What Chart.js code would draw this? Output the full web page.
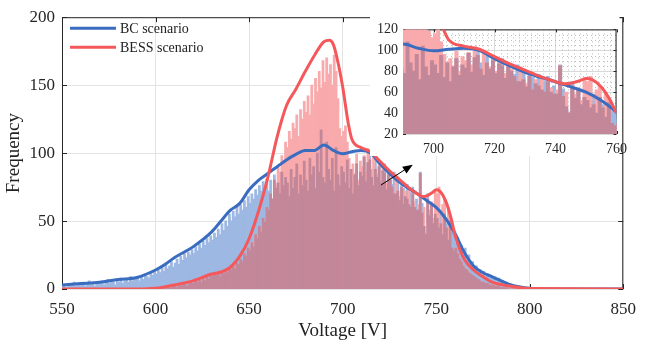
<!DOCTYPE html>
<html>
<head>
<meta charset="utf-8">
<script src="https://cdn.jsdelivr.net/npm/chart.js@4.4.1/dist/chart.umd.min.js"></script>
<style>
  html, body { margin: 0; padding: 0; background: #fff; }
  #wrap { position: relative; width: 646px; height: 350px; }
  #main { position: absolute; left: 0; top: 0; }
  #inset { position: absolute; left: 370px; top: 16px; }
</style>
</head>
<body>
<div id="wrap">
  <canvas id="main" width="646" height="350"></canvas>
  <canvas id="inset" width="264" height="140"></canvas>
</div>
<script>
// 1 V histogram bins starting at 550 V
const binStart = 550;

const bcCounts = [
  2,3,1,4,2,3,5,2,4,3,
  3,5,2,4,6,3,4,2,5,4,
  4,6,3,5,7,4,6,5,3,7,
  5,8,4,6,7,5,9,6,8,7,
  8,6,10,7,11,9,8,12,10,13,
  11,14,12,16,13,18,15,17,20,16,
  19,22,18,24,21,26,23,27,25,29,
  26,31,28,33,30,35,32,37,34,39,
  36,41,38,44,40,48,43,50,46,55,
  50,57,53,60,55,62,58,65,60,68,
  63,70,66,73,69,76,72,79,74,81,
  72,80,66,84,74,78,70,86,76,82,
  78,68,88,74,82,92,70,84,76,94,
  80,72,96,84,90,74,100,86,117,82,
  78,108,88,80,96,72,104,84,76,90,
  86,78,95,74,88,70,84,92,76,86,
  83,97,79,93,101,88,76,95,82,90,
  78,87,92,73,84,80,77,86,70,82,
  65,79,74,68,77,62,71,75,60,66,
  58,86,63,46,41,70,54,62,48,55,
  52,45,58,40,55,48,36,50,42,44,
  34,38,28,32,24,30,21,25,18,20,
  15,17,12,14,10,13,9,11,8,10,
  7,9,6,8,5,6,4,5,3,4,
  3,2,2,1,1,1,0,1,0,0
];

const bessCounts = [
  0,0,0,0,0,0,0,0,0,0,
  0,0,0,0,0,0,0,0,0,0,
  0,0,0,0,0,0,0,0,0,0,
  0,0,0,0,0,0,0,0,0,0,
  0,0,0,0,0,0,1,0,0,0,
  0,1,0,1,1,0,2,1,1,2,
  2,1,3,2,3,4,2,3,5,4,
  4,6,5,7,5,8,6,9,7,10,
  9,11,10,12,9,13,11,14,12,15,
  14,17,15,19,18,22,20,26,24,30,
  28,34,31,40,37,46,42,52,49,60,
  58,70,66,80,76,90,86,98,95,108,
  104,116,110,122,118,128,112,132,125,138,
  130,142,128,150,136,155,145,160,148,168,
  152,170,158,165,150,172,160,140,118,112,
  116,120,108,96,88,92,85,99,80,94,
  90,98,86,103,95,82,99,88,84,92,
  80,90,85,78,88,82,75,70,84,72,
  68,75,62,72,66,74,60,70,64,58,
  62,85,56,60,40,66,58,64,52,72,
  70,75,48,62,66,45,60,54,30,28,
  30,26,22,20,17,15,14,12,11,10,
  9,8,7,6,5,5,4,4,3,3,
  3,2,2,2,1,1,1,1,0,0,
  0,0,0,0,0,0,0,0,0,0
];

// smoothed density curves (scaled to frequency)
const bcCurveV = [550,560,570,580,590,600,605,610,620,630,635,640,645,650,655,660,665,670,675,680,685,690,695,700,705,710,715,720,730,740,745,750,755,760,765,770,775,780,790,800,810,850];
const bcCurve  = [3,4,5,7,8.5,14,18,23,31,42,50,58,63,73,80,85,90,95,99,102,102,106,102,99.5,101,102,100,92,79,70,65,60,52,41,27,17,12,9,3,0.5,0,0];

const bessCurveV = [550,590,600,610,620,630,635,640,645,650,655,660,665,670,675,680,685,690,693,695,697,700,703,705,710,715,720,725,730,735,740,743,745,748,750,752,755,758,760,765,770,775,780,790,800,850];
const bessCurve  = [0,0,0.5,3,6,11,12.5,16,24,37,57,82,112,135,147,160,172,182,183,180,170,149,122,110,104,101,94,87,81,75,70,68,68.5,71,73,72,65,52,40,22,14,9,5,2,0.3,0];

const mainXTicks = [550,600,650,700,750,800,850];
const mainYTicks = [0,50,100,150,200];
const insetXTicks = [700,720,740,760];
const insetYTicks = [20,40,60,80,100,120];

const blueLine = "#3a6cc0";
const redLine = "#f4585a";
// translucent-looking histogram faces: each alone, and where both overlap
const blueBar = "#9db8e2";
const redBar = "#f8aaac";
const bothBar = "#c3879a";
const serif = '"Liberation Serif", "Times New Roman", serif';
const inkColor = "#262626";

// shared part of the two histograms (drawn on top in the mixed colour)
const overlapCounts = bcCounts.map((v, i) => Math.min(v, bessCounts[i]));

function bars(counts, color, order) {
  return {
    type: "bar",
    data: counts.map((v, i) => ({ x: binStart + i + 0.5, y: v })),
    backgroundColor: color,
    borderWidth: 0,
    barPercentage: 1,
    categoryPercentage: 1,
    inflateAmount: 0.45,
    grouped: false,
    order: order,
  };
}

function curve(xs, ys, color, order, width) {
  return {
    type: "line",
    data: xs.map((x, i) => ({ x: x, y: ys[i] })),
    borderColor: color,
    borderWidth: width,
    pointRadius: 0,
    fill: false,
    cubicInterpolationMode: "monotone",
    order: order,
  };
}

function datasets(lw) {
  return [
    curve(bessCurveV, bessCurve, redLine, 0, lw),
    curve(bcCurveV, bcCurve, blueLine, 1, lw),
    bars(overlapCounts, bothBar, 2),
    bars(bessCounts, redBar, 3),
    bars(bcCounts, blueBar, 4),
  ];
}

// box around the plot with inward tick marks (MATLAB style)
const framePlugin = {
  id: "frame",
  beforeDatasetsDraw(chart, args, opts) {
    const { ctx, chartArea: a } = chart;
    const x = chart.scales.x, y = chart.scales.y;
    ctx.save();
    ctx.strokeStyle = inkColor;
    ctx.lineWidth = 1;
    ctx.strokeRect(a.left + 0.5, a.top + 0.5, a.width - 1, a.height - 1);
    const t = opts.len || 5;
    ctx.beginPath();
    x.ticks.forEach(tk => {
      const px = Math.round(x.getPixelForValue(tk.value)) + 0.5;
      ctx.moveTo(px, a.bottom); ctx.lineTo(px, a.bottom - t);
      ctx.moveTo(px, a.top); ctx.lineTo(px, a.top + t);
    });
    y.ticks.forEach(tk => {
      const py = Math.round(y.getPixelForValue(tk.value)) + 0.5;
      ctx.moveTo(a.left, py); ctx.lineTo(a.left + t, py);
      ctx.moveTo(a.right, py); ctx.lineTo(a.right - t, py);
    });
    ctx.stroke();
    ctx.restore();
  },
};

const legendPlugin = {
  id: "cornerLegend",
  afterDraw(chart) {
    const { ctx, chartArea: a } = chart;
    const items = [["BC scenario", blueLine], ["BESS scenario", redLine]];
    ctx.save();
    ctx.font = "14px " + serif;
    ctx.textBaseline = "middle";
    items.forEach((it, i) => {
      const yy = a.top + 11 + i * 19;
      ctx.strokeStyle = it[1];
      ctx.lineWidth = 3;
      ctx.beginPath();
      ctx.moveTo(a.left + 8, yy);
      ctx.lineTo(a.left + 54, yy);
      ctx.stroke();
      ctx.fillStyle = "#222";
      ctx.fillText(it[0], a.left + 58, yy + 1);
    });
    ctx.restore();
  },
};

// arrow pointing from the curve up to the zoomed inset
const arrowFrom = [720.5, 76.5];
const arrowTo = [737.5, 91.5];
const arrowPlugin = {
  id: "arrow",
  afterDraw(chart) {
    const { ctx } = chart;
    const x = chart.scales.x, y = chart.scales.y;
    const x0 = x.getPixelForValue(arrowFrom[0]), y0 = y.getPixelForValue(arrowFrom[1]);
    const x1 = x.getPixelForValue(arrowTo[0]), y1 = y.getPixelForValue(arrowTo[1]);
    const ang = Math.atan2(y1 - y0, x1 - x0);
    ctx.save();
    ctx.strokeStyle = "#000";
    ctx.fillStyle = "#000";
    ctx.lineWidth = 1;
    ctx.beginPath();
    ctx.moveTo(x0, y0);
    ctx.lineTo(x1 - 6 * Math.cos(ang), y1 - 6 * Math.sin(ang));
    ctx.stroke();
    ctx.beginPath();
    ctx.moveTo(x1, y1);
    ctx.lineTo(x1 - 10 * Math.cos(ang) + 4 * Math.sin(ang), y1 - 10 * Math.sin(ang) - 4 * Math.cos(ang));
    ctx.lineTo(x1 - 10 * Math.cos(ang) - 4 * Math.sin(ang), y1 - 10 * Math.sin(ang) + 4 * Math.cos(ang));
    ctx.closePath();
    ctx.fill();
    ctx.restore();
  },
};

new Chart(document.getElementById("main"), {
  type: "bar",
  data: { datasets: datasets(3) },
  options: {
    responsive: false,
    animation: false,
    events: [],
    layout: { padding: { left: 0, right: 14, top: 12, bottom: 0 } },
    plugins: { legend: { display: false }, tooltip: { enabled: false }, frame: { len: 5 } },
    scales: {
      x: {
        type: "linear",
        offset: false,
        min: 550,
        max: 850,
        afterBuildTicks: s => { s.ticks = mainXTicks.map(v => ({ value: v })); },
        afterFit: s => { s.height = 61; },
        grid: { color: "#e4e4e4", drawTicks: false, offset: false },
        border: { display: false },
        ticks: { color: inkColor, font: { family: serif, size: 17 }, padding: 10, maxRotation: 0 },
        title: { display: true, text: "Voltage [V]", color: "#222", font: { family: serif, size: 19 }, padding: { top: 0, bottom: 8 } },
      },
      y: {
        min: 0,
        max: 200,
        afterBuildTicks: s => { s.ticks = mainYTicks.map(v => ({ value: v })); },
        afterFit: s => { s.width = 62; },
        grid: { color: "#e4e4e4", drawTicks: false },
        border: { display: false },
        ticks: { color: inkColor, font: { family: serif, size: 17 }, padding: 7 },
        title: { display: true, text: "Frequency", color: "#222", font: { family: serif, size: 19 }, padding: { top: 3, bottom: 0 } },
      },
    },
  },
  plugins: [framePlugin, legendPlugin, arrowPlugin],
});

// inset: white panel + dotted minor grid
const insetBackground = {
  id: "insetBg",
  beforeDraw(chart) {
    const { ctx, chartArea: a } = chart;
    ctx.save();
    ctx.fillStyle = "#fff";
    ctx.fillRect(0, 0, a.right + 3, chart.height);
    ctx.restore();
  },
  beforeDatasetsDraw(chart) {
    const { ctx, chartArea: a } = chart;
    const x = chart.scales.x, y = chart.scales.y;
    ctx.save();
    ctx.strokeStyle = "#bdbdbd";
    ctx.lineWidth = 1;
    ctx.setLineDash([1, 3]);
    ctx.beginPath();
    for (let v = 692; v < 760; v += 2) {
      if (v % 20 === 0) continue;
      const px = Math.round(x.getPixelForValue(v)) + 0.5;
      ctx.moveTo(px, a.top); ctx.lineTo(px, a.bottom);
    }
    for (let v = 25; v < 120; v += 5) {
      if (v % 20 === 0) continue;
      const py = Math.round(y.getPixelForValue(v)) + 0.5;
      ctx.moveTo(a.left, py); ctx.lineTo(a.right, py);
    }
    ctx.stroke();
    ctx.restore();
  },
};

new Chart(document.getElementById("inset"), {
  type: "bar",
  data: { datasets: datasets(3) },
  options: {
    responsive: false,
    animation: false,
    events: [],
    layout: { padding: { left: 0, right: 16, top: 5, bottom: 0 } },
    plugins: { legend: { display: false }, tooltip: { enabled: false }, frame: { len: 3 } },
    scales: {
      x: {
        type: "linear",
        offset: false,
        min: 690,
        max: 760,
        afterBuildTicks: s => { s.ticks = insetXTicks.map(v => ({ value: v })); },
        afterFit: s => { s.height = 22; },
        grid: { color: "#d8d8d8", drawTicks: false, offset: false },
        border: { display: false },
        ticks: { color: inkColor, font: { family: serif, size: 14 }, padding: 7, maxRotation: 0 },
      },
      y: {
        min: 20,
        max: 120,
        afterBuildTicks: s => { s.ticks = insetYTicks.map(v => ({ value: v })); },
        afterFit: s => { s.width = 33; },
        grid: { color: "#d8d8d8", drawTicks: false },
        border: { display: false },
        ticks: { color: inkColor, font: { family: serif, size: 14 }, padding: 5 },
      },
    },
  },
  plugins: [insetBackground, framePlugin],
});
</script>
</body>
</html>
